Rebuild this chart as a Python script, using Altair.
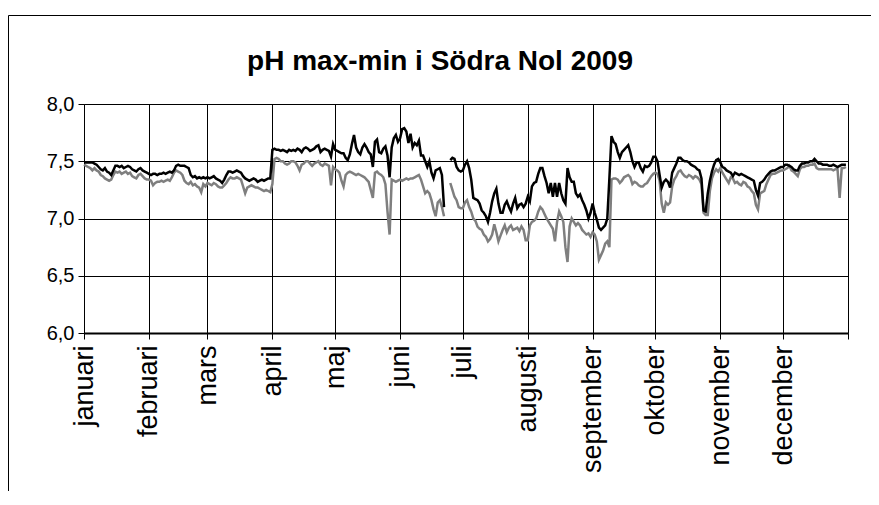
import altair as alt
import pandas as pd

TITLE = "pH max-min i Södra Nol 2009"
MONTHS = ["januari", "februari", "mars", "april", "maj", "juni", "juli",
          "augusti", "september", "oktober", "november", "december"]
MONTH_DAYS = [31, 28, 31, 30, 31, 30, 31, 31, 30, 31, 30, 31]
Y_TICKS = [6.0, 6.5, 7.0, 7.5, 8.0]

jan_max = [7.49,7.49,7.49,7.49,7.49,7.48,7.47,7.45,7.43,7.42,7.44,7.41,7.40,7.38,7.42,7.46,7.46,7.45,7.46,7.44,7.45,7.46,7.45,7.43,7.42,7.41,7.43,7.44,7.42,7.41,7.40]
jan_min = [7.47,7.46,7.45,7.44,7.42,7.44,7.42,7.41,7.38,7.37,7.35,7.34,7.33,7.34,7.38,7.41,7.40,7.41,7.39,7.40,7.41,7.39,7.40,7.37,7.36,7.35,7.38,7.39,7.37,7.35,7.34]
feb_max = [7.39,7.38,7.39,7.39,7.38,7.39,7.39,7.40,7.39,7.40,7.41,7.40,7.42,7.46,7.47,7.46,7.46,7.46,7.45,7.44,7.38,7.36,7.37,7.35,7.36,7.35,7.36,7.35]
feb_min = [7.34,7.33,7.29,7.31,7.32,7.32,7.33,7.32,7.33,7.34,7.33,7.36,7.40,7.42,7.41,7.40,7.38,7.33,7.31,7.30,7.32,7.29,7.30,7.28,7.27,7.23,7.30,7.28]
mar_max = [7.36,7.35,7.36,7.37,7.35,7.34,7.33,7.31,7.34,7.38,7.41,7.41,7.40,7.41,7.42,7.41,7.40,7.37,7.35,7.34,7.33,7.34,7.35,7.34,7.32,7.33,7.34,7.33,7.34,7.35,7.35]
mar_min = [7.31,7.30,7.29,7.31,7.30,7.28,7.27,7.27,7.29,7.31,7.34,7.36,7.35,7.35,7.36,7.35,7.34,7.28,7.22,7.27,7.28,7.29,7.28,7.27,7.27,7.26,7.25,7.24,7.25,7.24,7.23]
apr_max = [7.60,7.61,7.60,7.60,7.59,7.60,7.59,7.58,7.60,7.59,7.60,7.59,7.61,7.60,7.58,7.61,7.62,7.61,7.59,7.60,7.61,7.63,7.64,7.58,7.60,7.61,7.60,7.59,7.54,7.65]
apr_min = [7.30,7.52,7.53,7.52,7.50,7.50,7.48,7.47,7.48,7.50,7.50,7.49,7.46,7.42,7.47,7.48,7.50,7.50,7.48,7.46,7.48,7.49,7.50,7.47,7.46,7.48,7.47,7.46,7.29,7.45]
may_max = [7.60,7.59,7.58,7.57,7.57,7.53,7.51,7.56,7.65,7.73,7.62,7.58,7.56,7.62,7.65,7.62,7.58,7.56,7.45,7.67,7.69,7.58,7.57,7.61,7.63,7.55,7.36,7.62,7.70,7.73,7.67]
may_min = [7.43,7.42,7.40,7.33,7.28,7.38,7.40,7.41,7.40,7.39,7.38,7.39,7.38,7.37,7.36,7.34,7.32,7.25,7.18,7.40,7.41,7.39,7.38,7.36,7.30,7.06,6.86,7.34,7.33,7.32,7.33]
jun_max = [7.70,7.78,7.79,7.76,7.66,7.74,7.62,7.66,7.64,7.68,7.55,7.55,7.50,7.45,7.50,7.40,7.35,7.42,7.43,7.44,7.38,7.10,None,None,7.51,7.53,7.52,7.45,7.42,7.41]
jun_min = [7.34,7.33,7.34,7.35,7.34,7.35,7.35,7.36,7.37,7.38,7.34,7.28,7.22,7.24,7.22,7.16,7.08,7.02,7.14,7.16,7.10,7.02,None,None,7.31,7.25,7.19,7.16,7.10,7.09]
jul_max = [7.42,7.47,7.50,7.44,7.34,7.18,7.17,7.16,7.13,7.07,7.05,7.02,6.97,7.05,7.15,7.22,7.26,7.13,7.05,7.05,7.12,7.15,7.10,7.06,7.13,7.18,7.09,7.12,7.13,7.10,7.13]
jul_min = [7.09,7.14,7.16,7.10,7.06,7.00,6.98,6.93,6.91,6.90,6.86,6.84,6.80,6.82,6.86,6.95,6.88,6.80,6.85,6.90,6.94,6.88,6.92,6.94,6.90,6.91,6.92,6.89,6.93,6.90,6.81]
aug_max = [7.19,7.15,7.28,7.31,7.32,7.39,7.44,7.44,7.37,7.31,7.22,7.31,7.19,7.31,7.19,7.31,7.22,7.16,7.13,7.44,7.36,7.32,7.32,7.22,7.19,7.21,7.16,7.12,7.07,7.00,7.05]
aug_min = [6.81,6.94,6.97,6.98,7.00,7.06,7.10,7.08,7.04,7.00,6.97,6.94,6.91,6.80,6.97,7.06,7.02,6.97,6.75,6.62,6.93,7.00,6.97,6.94,6.96,6.94,6.90,6.88,6.86,6.87,6.84]
sep_max = [7.13,7.05,6.99,6.92,6.90,6.92,6.94,7.00,7.35,7.72,7.67,7.65,7.58,7.53,7.58,7.60,7.62,7.64,7.58,7.50,7.45,7.49,7.49,7.44,7.41,7.46,7.45,7.46,7.49,7.54]
sep_min = [6.88,6.86,6.80,6.64,6.68,6.72,6.78,6.80,6.75,7.34,7.35,7.35,7.34,7.31,7.33,7.36,7.37,7.38,7.36,7.30,7.32,7.31,7.29,7.28,7.28,7.30,7.31,7.34,7.37,7.39]
oct_max = [7.54,7.50,7.38,7.27,7.32,7.34,7.32,7.27,7.40,7.44,7.48,7.53,7.53,7.51,7.50,7.50,7.49,7.47,7.46,7.45,7.43,7.42,7.35,7.07,7.06,7.22,7.33,7.41,7.47,7.51,7.52]
oct_min = [7.40,7.39,7.33,7.13,7.05,7.14,7.12,7.14,7.28,7.34,7.37,7.41,7.42,7.39,7.37,7.36,7.38,7.37,7.35,7.37,7.36,7.34,7.30,7.05,7.03,7.03,7.24,7.35,7.40,7.43,7.41]
nov_max = [7.49,7.45,7.44,7.42,7.41,7.40,7.37,7.40,7.39,7.38,7.39,7.38,7.37,7.36,7.35,7.34,7.33,7.25,7.20,7.31,7.32,7.34,7.37,7.39,7.41,7.42,7.42,7.43,7.44,7.45]
nov_min = [7.44,7.40,7.37,7.34,7.31,7.36,7.35,7.31,7.32,7.30,7.29,7.32,7.31,7.28,7.27,7.24,7.22,7.12,7.08,7.22,7.23,7.24,7.30,7.34,7.38,7.39,7.39,7.40,7.41,7.42]
dec_max = [7.45,7.47,7.47,7.46,7.45,7.43,7.42,7.42,7.46,7.48,7.48,7.49,7.49,7.50,7.50,7.52,7.50,7.48,7.48,7.47,7.47,7.47,7.46,7.46,7.47,7.46,7.45,7.46,7.47,7.47,7.47]
dec_min = [7.42,7.43,7.44,7.46,7.42,7.41,7.39,7.37,7.43,7.45,7.45,7.46,7.46,7.47,7.47,7.48,7.44,7.43,7.43,7.43,7.43,7.43,7.43,7.43,7.42,7.43,7.43,7.18,7.44,7.44,7.45]

PH_MAX = jan_max + feb_max + mar_max + apr_max + may_max + jun_max + jul_max + aug_max + sep_max + oct_max + nov_max + dec_max
PH_MIN = jan_min + feb_min + mar_min + apr_min + may_min + jun_min + jul_min + aug_min + sep_min + oct_min + nov_min + dec_min


def series_frame(values, name):
    rows = []
    seg = 0
    for i, v in enumerate(values):
        if v is None:
            seg += 1
            continue
        rows.append({"day": i, "ph": v, "series": name, "seg": seg})
    return pd.DataFrame(rows)


df_max = series_frame(PH_MAX, "max")
df_min = series_frame(PH_MIN, "min")

month_starts = [0]
for d in MONTH_DAYS:
    month_starts.append(month_starts[-1] + d)

label_expr = " : ".join(
    f"datum.value == {s} ? '{m}'" for s, m in zip(month_starts, MONTHS)
) + " : ''"

FONT = "Liberation Sans"

x_enc = alt.X(
    "day:Q",
    scale=alt.Scale(domain=[0, 365], nice=False, zero=False),
    axis=alt.Axis(
        values=month_starts, labelExpr=label_expr, title=None,
        labelAngle=-90, labelAlign="right", labelBaseline="middle",
        labelFontSize=27, labelPadding=6, tickSize=6, domainWidth=2,
        grid=True, gridColor="#000000", gridWidth=1, labelFont=FONT,
        labelColor="#000000", labelOverlap=False, tickColor="#000000",
        domainColor="#000000",
    ),
)
y_enc = alt.Y(
    "ph:Q",
    scale=alt.Scale(domain=[6.0, 8.0], nice=False, zero=False),
    axis=alt.Axis(
        values=Y_TICKS, labelExpr="replace(format(datum.value, '.1f'), '.', ',')",
        title=None, labelFontSize=20, labelPadding=4, tickSize=6,
        grid=True, gridColor="#000000", gridWidth=1, labelFont=FONT,
        labelColor="#000000", tickColor="#000000", domainColor="#000000",
        domainWidth=1,
    ),
)

line_min = alt.Chart(df_min).mark_line(color="#7f7f7f", strokeWidth=2.5).encode(
    x=x_enc, y=y_enc, detail="seg:N")
line_max = alt.Chart(df_max).mark_line(color="#000000", strokeWidth=2.5).encode(
    x=x_enc, y=y_enc, detail="seg:N")

title = alt.Chart(pd.DataFrame({"t": [TITLE]})).mark_text(
    fontSize=28, fontWeight="bold", font=FONT, align="center",
    baseline="alphabetic", color="#000000",
).encode(x=alt.value(356), y=alt.value(-34), text="t:N")

frame = alt.Chart(pd.DataFrame({"a": [0]})).mark_rect(
    fillOpacity=0, stroke="#000000", strokeWidth=1,
).encode(x=alt.value(-75.5), x2=alt.value(900), y=alt.value(-88.5), y2=alt.value(600))

chart = alt.layer(frame, line_min, line_max, title).properties(
    width=764, height=229,
    autosize=alt.AutoSizeParams(type="none"),
    padding={"left": 76, "top": 96, "right": 23, "bottom": 158},
    background="#ffffff",
).configure_view(strokeWidth=0)

chart.save("out.html", embed_options={"renderer": "svg", "actions": False})
